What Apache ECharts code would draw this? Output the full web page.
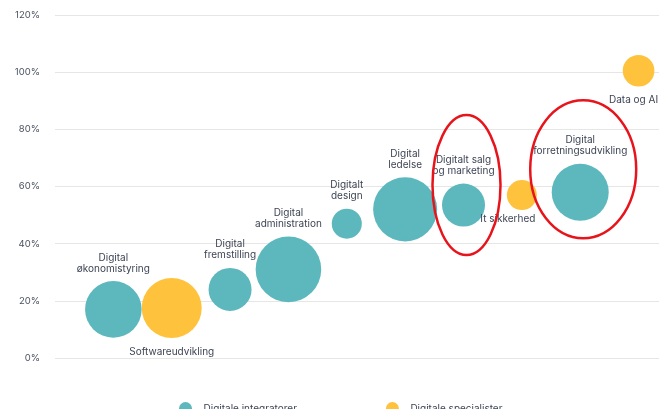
<!DOCTYPE html>
<html>
<head>
<meta charset="utf-8">
<script src="https://cdn.jsdelivr.net/npm/echarts@6/dist/echarts.min.js"></script>
<style>
    html,body{margin:0;padding:0;background:#fff;}
    #chartmain{width:659px;height:409px;}
</style>
</head>
<body>
<div id="chartmain"></div>
<script>
// kompetencer (x-position = raekkefoelge)
var names = ['Digital\nøkonomistyring','Softwareudvikling','Digital\nfremstilling','Digital\nadministration',
    'Digitalt\ndesign','Digital\nledelse','Digitalt salg\nog marketing','It sikkerhed',
    'Digital\nforretningsudvikling','Data og AI'];
var order = [1,2,3,4,5,6,7,8,9,10];
var shares = [17,17.5,24,31,47,52,53.5,57,58,100.5];
var sizes = [32,36,18.5,43,9,41,18.5,9,32.5,10];
var groups = ['int','spec','int','int','int','int','int','spec','int','spec'];
var yTicks = [0,20,40,60,80,100,120];
var legendNames = ['Digitale integratorer','Digitale specialister'];

var textCol = '#3d4454';
var fontFam = 'Inter, "Noto Sans", sans-serif';

// label placering pr. boble
var labelPos = {
    'Softwareudvikling': {position:'bottom', distance:9},
    'It sikkerhed': {position:'bottom', distance:3, offset:[-14,0]},
    'Data og AI': {position:'bottom', distance:8, offset:[-5,0]}
};

function buildData(g){
    var out = [];
    for (var i = 0; i < names.length; i++) {
        if (groups[i] !== g) continue;
        var lp = labelPos[names[i]] || {position:'top', distance:7};
        out.push({
            name: names[i],
            value: [order[i], shares[i], sizes[i]],
            label: Object.assign({show:true, formatter:names[i]}, lp)
        });
    }
    return out;
}

var myChart = echarts.init(document.getElementById('chartmain'));
var option = {
    animation:false,
    textStyle:{fontFamily:fontFam},
    legend:{
        data:legendNames,
        left:174,
        top:397,
        icon:'circle',
        itemWidth:14,
        itemHeight:13,
        itemGap:89,
        textStyle:{color:textCol, fontSize:10, fontFamily:fontFam, padding:[0,0,0,6]}
    },
    grid:{left:55, right:0, top:15, bottom:51},
    xAxis:{type:'value', min:0, max:10.35, show:false},
    yAxis:{
        type:'value', min:yTicks[0], max:yTicks[yTicks.length-1], interval:20,
        axisLine:{show:false}, axisTick:{show:false},
        axisLabel:{formatter:'{value}%', color:'#4a5161', fontSize:9.5, margin:15, fontFamily:fontFam},
        splitLine:{lineStyle:{color:'#e6e6e6', width:1}}
    },
    series:[
        {
            name:legendNames[0], type:'scatter',
            data:buildData('int'),
            symbolSize:function(v){ return Math.sqrt(v[2])*10; },
            itemStyle:{color:'#5db8bd', opacity:1},
            label:{color:textCol, fontSize:10, lineHeight:11, fontFamily:fontFam},
            z:2
        },
        {
            name:legendNames[1], type:'scatter',
            data:buildData('spec'),
            symbolSize:function(v){ return Math.sqrt(v[2])*10; },
            itemStyle:{color:'#ffc23c', opacity:1},
            label:{color:textCol, fontSize:10, lineHeight:11, fontFamily:fontFam},
            z:2
        }
    ]
};
myChart.setOption(option);

// roede markeringer rundt om to bobler
var marks = [
    {idx:6, dx:3, dy:-20, rx:34, ry:70},
    {idx:8, dx:3, dy:-23, rx:53, ry:69}
];
var gfx = marks.map(function(m){
    var p = myChart.convertToPixel({gridIndex:0}, [order[m.idx], shares[m.idx]]);
    return {
        type:'ellipse',
        shape:{cx:p[0]+m.dx, cy:p[1]+m.dy, rx:m.rx, ry:m.ry},
        style:{fill:null, stroke:'#e8141b', lineWidth:2.5},
        z:10
    };
});
myChart.setOption({graphic:gfx});
</script>
</body>
</html>
